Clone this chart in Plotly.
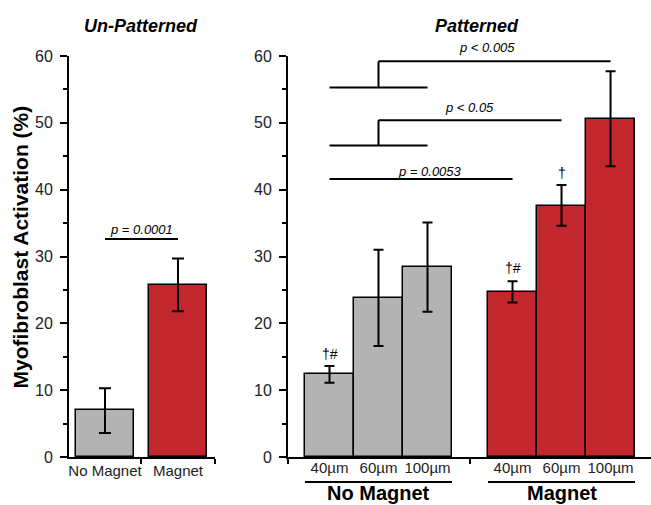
import plotly.graph_objects as go

# ---------------- data ----------------
left_cats = ["No Magnet", "Magnet"]
left_vals = [7.0, 25.8]
left_err_hi = [3.3, 3.9]
left_err_lo = [3.4, 4.0]

size_labels = ["40µm", "60µm", "100µm"]
nm_vals = [12.4, 23.8, 28.5]
nm_err_hi = [1.2, 7.2, 6.6]
nm_err_lo = [1.3, 7.2, 6.75]
m_vals = [24.7, 37.6, 50.6]
m_err_hi = [1.6, 3.1, 7.1]
m_err_lo = [1.6, 3.0, 7.1]

group_labels = ["No Magnet", "Magnet"]
y_ticks = [0, 10, 20, 30, 40, 50, 60]

GRAY = "#b3b3b3"
RED = "#c1272d"
FONT = "Liberation Sans, Arial, sans-serif"

# positions (layout)
GAP = 0.735
nm_x = [1 + i for i in range(3)]
m_x = [3 + GAP + 1 + i for i in range(3)]
left_x = [0, 1]

W, H = 651, 505
Y0, Y60 = 457, 56


def py(px):
    return (H - px) / H


fig = go.Figure()

fig.add_trace(go.Bar(
    x=left_x, y=left_vals, width=0.795, marker=dict(color=[GRAY, RED], line=dict(color="black", width=1.5)),
    error_y=dict(type="data", array=left_err_hi, arrayminus=left_err_lo, color="black", thickness=2, width=6),
    xaxis="x", yaxis="y", showlegend=False))

fig.add_trace(go.Bar(
    x=nm_x, y=nm_vals, width=1.0, marker=dict(color=GRAY, line=dict(color="black", width=1.5)),
    error_y=dict(type="data", array=nm_err_hi, arrayminus=nm_err_lo, color="black", thickness=2, width=5),
    xaxis="x2", yaxis="y2", showlegend=False))
fig.add_trace(go.Bar(
    x=m_x, y=m_vals, width=1.0, marker=dict(color=RED, line=dict(color="black", width=1.5)),
    error_y=dict(type="data", array=m_err_hi, arrayminus=m_err_lo, color="black", thickness=2, width=5),
    xaxis="x2", yaxis="y2", showlegend=False))

ydom = [py(Y0), py(Y60)]
yaxis_common = dict(
    range=[0, 60], domain=ydom, tickvals=y_ticks, ticks="outside", ticklen=7, tickwidth=2,
    tickcolor="black", showline=True, linecolor="black", linewidth=2, showgrid=False, zeroline=False,
    tickfont=dict(family=FONT, size=16, color="#222"), ticklabelstandoff=4, automargin=False,
    minor=dict(dtick=5, ticks="outside", ticklen=4, tickwidth=2, tickcolor="black", showgrid=False),
)

fig.update_layout(
    width=W, height=H, margin=dict(l=0, r=0, t=0, b=0, autoexpand=False),
    plot_bgcolor="white", paper_bgcolor="white", bargap=0,
    xaxis=dict(domain=[69 / W, 215 / W], range=[-0.493, 1.507], tickvals=left_x, ticktext=left_cats,
               ticks="", showline=True, linecolor="black", linewidth=2, showgrid=False, zeroline=False,
               tickfont=dict(family=FONT, size=15, color="#222"), anchor="y", automargin=False,
               ticklabelstandoff=-1,
               minor=dict(tickmode="array", tickvals=[0.5, 1.507], ticks="outside", ticklen=5,
                          tickwidth=2, tickcolor="black", showgrid=False)),
    yaxis=dict(anchor="x", **yaxis_common),
    xaxis2=dict(domain=[288 / W, 1.0], range=[0.153, 7.561], tickvals=nm_x + m_x, ticktext=size_labels * 2,
                ticks="", showline=True, linecolor="black", linewidth=2, showgrid=False, zeroline=False,
                tickfont=dict(family=FONT, size=15, color="#222"), anchor="y2", automargin=False,
                ticklabelstandoff=-4,
                minor=dict(tickmode="array", tickvals=[0.153, 3.5 + GAP / 2], ticks="outside", ticklen=5,
                           tickwidth=2, tickcolor="black", showgrid=False)),
    yaxis2=dict(anchor="x2", **yaxis_common),
)

# ---------------- annotations / brackets ----------------
ann = []
shapes = []
line = dict(color="black", width=2)


def text(t, x, xref, y, yref, size, angle=0):
    ann.append(dict(text=t, x=x, xref=xref, y=y, yref=yref, showarrow=False, textangle=angle,
                    xanchor="center", yanchor="middle",
                    font=dict(family=FONT, size=size, color="black")))


def xr(px):
    # right panel data coordinate from a pixel position (for annotation placement)
    return (px - 329.5) / 49 + 1


# titles
text("<b><i>Un-Patterned</i></b>", 0.5, "x", py(25.5), "paper", 18)
text("<b><i>Patterned</i></b>", 477 / W, "paper", py(25.5), "paper", 18)

# y title
text("<b>Myofibroblast Activation (%)</b>", 20 / W, "paper", py(247.5), "paper", 21, angle=-90)

# left p-value
shapes.append(dict(type="line", xref="x", yref="y", x0=0, x1=1, y0=32.6, y1=32.6, line=line))
text("<i>p = 0.0001</i>", 0.5, "x", py(230), "paper", 13)

# right brackets
shapes += [
    dict(type="line", xref="x2", yref="y2", x0=nm_x[0], x1=nm_x[2], y0=55.3, y1=55.3, line=line),
    dict(type="line", xref="x2", yref="y2", x0=nm_x[1], x1=nm_x[1], y0=55.3, y1=59.2, line=line),
    dict(type="line", xref="x2", yref="y2", x0=nm_x[1], x1=m_x[2], y0=59.2, y1=59.2, line=line),
    dict(type="line", xref="x2", yref="y2", x0=nm_x[0], x1=nm_x[2], y0=46.6, y1=46.6, line=line),
    dict(type="line", xref="x2", yref="y2", x0=nm_x[1], x1=nm_x[1], y0=46.6, y1=50.4, line=line),
    dict(type="line", xref="x2", yref="y2", x0=nm_x[1], x1=m_x[1], y0=50.4, y1=50.4, line=line),
    dict(type="line", xref="x2", yref="y2", x0=nm_x[0], x1=m_x[0], y0=41.6, y1=41.6, line=line),
]
text("<i>p < 0.005</i>", xr(487), "x2", py(47.5), "paper", 13)
text("<i>p < 0.05</i>", xr(469), "x2", py(107.5), "paper", 13)
text("<i>p = 0.0053</i>", xr(429.5), "x2", py(171.5), "paper", 13)

# significance marks
text("†#", nm_x[0], "x2", py(354), "paper", 14)
text("†#", m_x[0], "x2", py(268), "paper", 14)
text("†", m_x[1], "x2", py(173), "paper", 14)

# group lines and labels
gy = py(482)
shapes.append(dict(type="line", xref="x2", yref="paper", x0=nm_x[0] - 0.5, x1=nm_x[2] + 0.5, y0=gy, y1=gy, line=line))
shapes.append(dict(type="line", xref="x2", yref="paper", x0=m_x[0] - 0.5, x1=m_x[2] + 0.5, y0=gy, y1=gy, line=line))
text("<b>" + group_labels[0] + "</b>", nm_x[1], "x2", py(493), "paper", 20)
text("<b>" + group_labels[1] + "</b>", m_x[1], "x2", py(493), "paper", 20)

fig.update_layout(annotations=ann, shapes=shapes)
fig.write_html("out.html")
